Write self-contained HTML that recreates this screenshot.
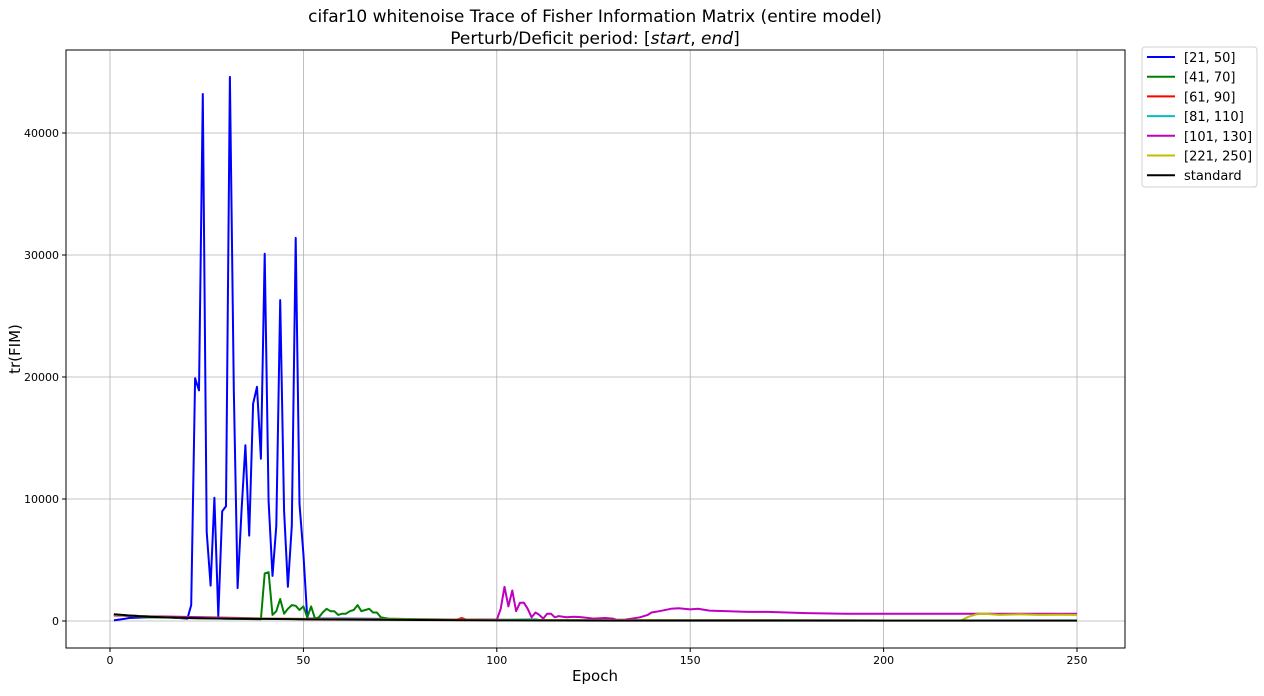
<!DOCTYPE html>
<html><head><meta charset="utf-8"><style>
body{margin:0;background:#fff;}
svg text{font-family:"DejaVu Sans","Liberation Sans",sans-serif;}
</style></head><body>
<svg id="chart" width="1264" height="691" xmlns="http://www.w3.org/2000/svg">
<rect width="1264" height="691" fill="#fff"/>
<text x="595" y="22" font-size="17" text-anchor="middle">cifar10 whitenoise Trace of Fisher Information Matrix (entire model)</text>
<text x="595" y="44" font-size="17" text-anchor="middle">Perturb/Deficit period: [<tspan font-style="italic">start</tspan>, <tspan font-style="italic">end</tspan>]</text>
<g id="grid"></g>
<g id="ticks"></g>
<g id="series"></g>
<rect x="66" y="50" width="1059" height="598" fill="none" stroke="#000" stroke-width="1"/>
<text x="595" y="681" font-size="15" text-anchor="middle">Epoch</text>
<text transform="translate(20,349) rotate(-90)" font-size="15" text-anchor="middle">tr(FIM)</text>
<g id="legend"></g>
</svg>
<script>
const xTicks=[0,50,100,150,200,250];
const yTicks=[0,10000,20000,30000,40000];
const seriesNames=["[21, 50]","[41, 70]","[61, 90]","[81, 110]","[101, 130]","[221, 250]","standard"];
const seriesColors=["#0000ff","#008000","#ff0000","#00bfbf","#bf00bf","#bfbf00","#000000"];
const blueX=[1,3,5,10,15,20,21,22,23,24,25,26,27,28,29,30,31,32,33,34,35,36,37,38,39,40,41,42,43,44,45,46,47,48,49,50,51,60,80,100,130,250];
const blueY=[50,150,250,300,300,200,1300,19900,18900,43200,7300,2900,10100,400,9000,9400,44600,19000,2700,9000,14400,7000,17800,19200,13300,30100,9800,3700,7800,26300,9000,2800,7800,31400,9600,5500,200,200,150,100,50,40];
const greenX=[1,10,20,30,39,40,41,42,43,44,45,46,47,48,49,50,51,52,53,54,55,56,57,58,59,60,61,62,63,64,65,66,67,68,69,70,71,72,80,100,150,250];
const greenY=[500,300,250,200,150,3900,4000,500,800,1800,600,1000,1300,1250,900,1200,300,1200,200,300,700,1000,800,800,500,600,600,800,900,1300,800,900,1000,700,700,300,250,200,150,80,50,40];
const redX=[1,20,60,89,90,91,92,100,150,250];
const redY=[500,250,150,100,150,250,120,80,50,40];
const cyanX=[1,20,60,100,105,110,111,150,250];
const cyanY=[500,250,150,80,120,150,80,50,40];
const magentaX=[1,50,100,101,102,103,104,105,106,107,108,109,110,111,112,113,114,115,116,118,120,122,125,128,130,131,133,135,137,139,140,142,145,147,150,152,155,160,165,170,175,180,190,200,210,220,230,240,250];
const magentaY=[450,150,100,1000,2800,1200,2500,800,1500,1500,1000,300,700,500,200,600,600,300,400,300,350,300,200,250,200,100,100,200,300,500,700,800,1000,1050,950,1000,850,800,750,750,700,650,600,600,600,600,600,600,600];
const yellowX=[1,20,60,100,150,219,220,222,224,226,230,235,240,245,250];
const yellowY=[500,250,150,80,50,40,50,350,550,600,500,550,500,520,500];
const blackX=[1,5,10,20,30,40,50,60,80,100,130,160,200,250];
const blackY=[550,450,350,250,200,170,150,120,80,50,35,30,30,30];
const allX=[blueX,greenX,redX,cyanX,magentaX,yellowX,blackX];
const allY=[blueY,greenY,redY,cyanY,magentaY,yellowY,blackY];

const NS="http://www.w3.org/2000/svg";
const L=66,R=1125,T=50,B=648;
function xs(v){return 110+v*(1077-110)/250;}
function ys(v){return 621-v*(621-133)/40000;}
function mk(tag,attrs,parent){const e=document.createElementNS(NS,tag);for(const k in attrs)e.setAttribute(k,attrs[k]);parent.appendChild(e);return e;}
const grid=document.getElementById('grid'),ticks=document.getElementById('ticks');
xTicks.forEach(t=>{
  const g=mk('line',{x1:xs(t),x2:xs(t),y1:T,y2:B,stroke:'#b0b0b0','stroke-width':0.8},grid);
  
  
  mk('line',{x1:xs(t),x2:xs(t),y1:B,y2:B+4,stroke:'#000'},ticks);
  const tx=mk('text',{x:xs(t),y:B+16,'font-size':11,'text-anchor':'middle'},ticks);
  tx.textContent=t;
  
  
});
yTicks.forEach(t=>{
  const g=mk('line',{x1:L,x2:R,y1:ys(t),y2:ys(t),stroke:'#b0b0b0','stroke-width':0.8},grid);
  
  
  mk('line',{x1:L-4,x2:L,y1:ys(t),y2:ys(t),stroke:'#000'},ticks);
  const tx=mk('text',{x:L-7,y:ys(t)+4,'font-size':11,'text-anchor':'end'},ticks);
  tx.textContent=t;
  
  
});
const sg=document.getElementById('series');
allX.forEach((xsArr,i)=>{
  const pts=xsArr.map((x,j)=>xs(x).toFixed(1)+','+ys(allY[i][j]).toFixed(1)).join(' ');
  const p=mk('polyline',{points:pts,fill:'none',stroke:seriesColors[i],'stroke-width':2,'stroke-linejoin':'round'},sg);
  
  
});
const lg=document.getElementById('legend');
const box=mk('rect',{x:1142,y:47,width:115,height:140,rx:3,fill:'#fff',stroke:'#d0d0d0'},lg);


seriesNames.forEach((n,i)=>{
  const y=57+i*19.7;
  const ln=mk('line',{x1:1147,x2:1175,y1:y,y2:y,stroke:seriesColors[i],'stroke-width':2},lg);
  
  
  const t=mk('text',{x:1184,y:y+5,'font-size':13},lg);
  t.textContent=n;
  
  
});
</script>
</body></html>
